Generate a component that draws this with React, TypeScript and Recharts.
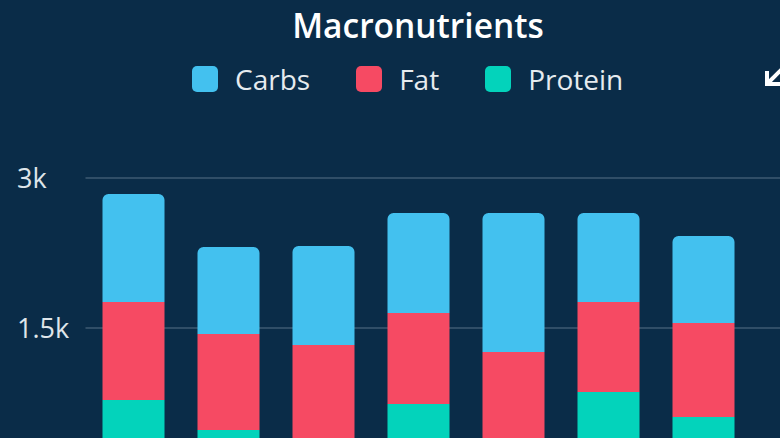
import React from 'react';
import { BarChart, Bar, XAxis, YAxis, CartesianGrid, Legend } from 'recharts';

const days = ['Mon', 'Tue', 'Wed', 'Thu', 'Fri', 'Sat', 'Sun'];
const protein = [780, 480, 300, 740, 250, 860, 610];
const fat = [980, 960, 1030, 910, 1010, 900, 940];
const carbs = [1080, 870, 990, 1000, 1390, 890, 870];
const legendOrder = ['Carbs', 'Fat', 'Protein'];
const yTicks = [1500, 3000];
const yTickLabels = ['1.5k', '3k'];

const data = days.map((d, i) => ({ day: d, protein: protein[i], fat: fat[i], carbs: carbs[i] }));

const BG = '#0a2c48';
const FONT = '"Open Sans", sans-serif';

const YTick = (props: any) => {
  const { y, payload } = props;
  const idx = yTicks.indexOf(payload.value);
  return (
    <text x={17} y={y} dy={10} textAnchor="start" fill="#dfe5ea" fontSize={27} fontFamily={FONT}>
      {yTickLabels[idx]}
    </text>
  );
};

const LegendContent = (props: any) => {
  const items = [...(props.payload || [])].sort(
    (a: any, b: any) => legendOrder.indexOf(a.value) - legendOrder.indexOf(b.value)
  );
  return (
    <div style={{ display: 'flex', alignItems: 'center', fontFamily: FONT, fontSize: 28, color: '#e6ebef', paddingLeft: 192 }}>
      {items.map((it: any) => (
        <div key={it.value} style={{ display: 'flex', alignItems: 'center', marginRight: 46 }}>
          <span style={{ display: 'inline-block', width: 26, height: 26, borderRadius: 5, background: it.color, marginRight: 17 }} />
          <span>{it.value}</span>
        </div>
      ))}
    </div>
  );
};

export default function App() {
  return (
    <div style={{ position: 'fixed', left: 0, top: 0, width: 780, height: 438, overflow: 'hidden', background: BG }}>
      <div style={{ position: 'absolute', left: 0, top: 0 }}>
        <BarChart width={780} height={520} data={data} margin={{ top: 178, right: 0, bottom: 42, left: 0 }}>
          <CartesianGrid vertical={false} stroke="#3e5a72" strokeWidth={1.5} />
          <XAxis dataKey="day" hide padding={{ left: 0, right: 29.5 }} />
          <YAxis width={85.5} domain={[0, 3000]} ticks={yTicks} interval={0} axisLine={false} tickLine={false} tick={<YTick />} />
          <Legend
            verticalAlign="middle"
            layout="horizontal"
            content={<LegendContent />}
            wrapperStyle={{ top: 60, left: 0, width: 780 }}
          />
          <Bar dataKey="protein" name="Protein" stackId="a" fill="#03d3bb" barSize={62} isAnimationActive={false} />
          <Bar dataKey="fat" name="Fat" stackId="a" fill="#f64a63" barSize={62} isAnimationActive={false} />
          <Bar dataKey="carbs" name="Carbs" stackId="a" fill="#43c1ef" barSize={62} radius={[6, 6, 0, 0]} isAnimationActive={false} />
        </BarChart>
      </div>
      <div style={{ position: 'absolute', left: 28, top: 2, width: 780, textAlign: 'center', fontFamily: FONT, fontWeight: 600, fontSize: 33.5, color: '#ffffff' }}>
        Macronutrients
      </div>
      <svg style={{ position: 'absolute', left: 0, top: 0 }} width={780} height={438}>
        <polyline points="767,71 767,84 780,84" fill="none" stroke="#ffffff" strokeWidth={4} />
        <line x1={767} y1={84} x2={786} y2={65} stroke="#ffffff" strokeWidth={4} />
      </svg>
    </div>
  );
}
